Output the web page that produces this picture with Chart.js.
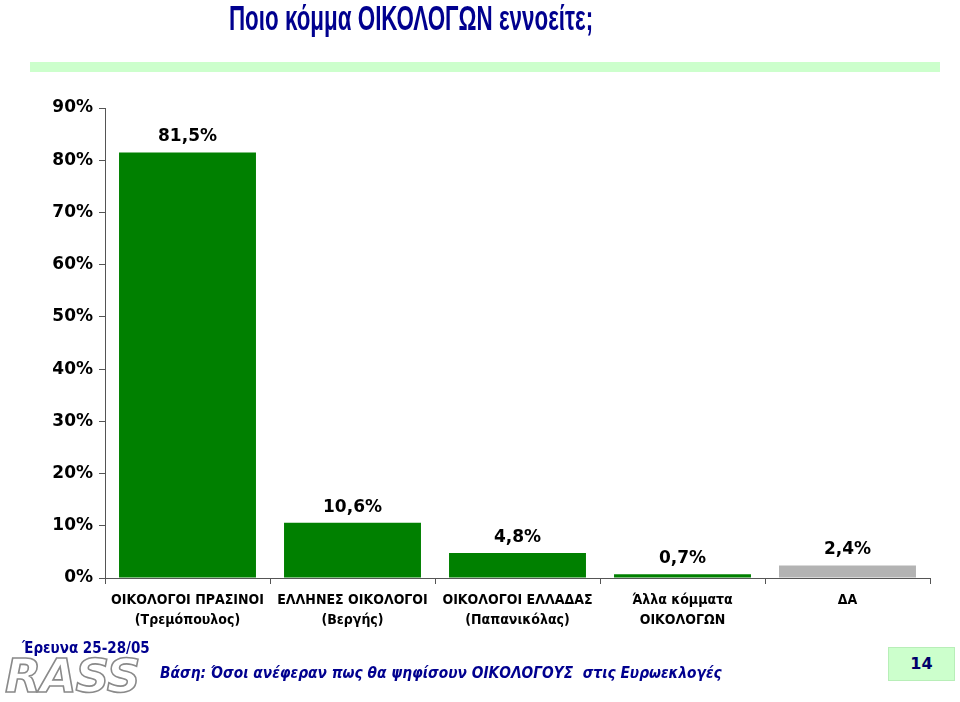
<!DOCTYPE html>
<html>
<head>
<meta charset="utf-8">
<script src="https://cdn.jsdelivr.net/npm/chart.js@4"></script>
<style>
  html, body { margin:0; padding:0; background:#fff; }
  #wrap { position:relative; width:960px; height:702px; overflow:hidden; }
  #c { position:absolute; left:0; top:0; }
  .abs { position:absolute; white-space:nowrap; }
  #title { left:0; width:822px; top:-2px; text-align:center; font-family:"Liberation Sans",Arial,sans-serif; font-weight:bold; font-size:35px; color:#00008f; transform:scaleX(0.64); transform-origin:411px 0; }
  #band { left:30px; top:62px; width:910px; height:10px; background:#ccffcc; }
  #survey { left:22px; top:639px; font-family:"DejaVu Sans Condensed","DejaVu Sans",sans-serif; font-weight:bold; font-size:15px; color:#00008f; }
  #logo { left:5px; top:648px; font-family:"DejaVu Sans","Liberation Sans",sans-serif; font-weight:bold; font-style:italic; font-size:47px; letter-spacing:-1px; color:#fff; -webkit-text-stroke:1.6px #8a8a8a; }
  #basis { left:160px; top:664px; font-family:"DejaVu Sans Condensed","DejaVu Sans",sans-serif; font-weight:bold; font-style:italic; font-size:15.3px; color:#00008f; }
  #page { left:888px; top:647px; width:65px; height:32px; background:#ccffcc; border:1px solid #b8eeb8; text-align:center; line-height:32px; font-family:"DejaVu Sans",sans-serif; font-weight:bold; font-size:16px; color:#00006a; }
</style>
</head>
<body>
<div id="wrap">
  <canvas id="c" width="960" height="702"></canvas>
  <div class="abs" id="title">Ποιο κόμμα ΟΙΚΟΛΟΓΩΝ εννοείτε;</div>
  <div class="abs" id="band"></div>
  <div class="abs" id="survey">Έρευνα 25-28/05</div>
  <div class="abs" id="logo">RASS</div>
  <div class="abs" id="basis">Βάση: Όσοι ανέφεραν πως θα ψηφίσουν ΟΙΚΟΛΟΓΟΥΣ&nbsp; στις Ευρωεκλογές</div>
  <div class="abs" id="page">14</div>
</div>
<script>
const categories = [
  ["ΟΙΚΟΛΟΓΟΙ ΠΡΑΣΙΝΟΙ", "(Τρεμόπουλος)"],
  ["ΕΛΛΗΝΕΣ ΟΙΚΟΛΟΓΟΙ", "(Βεργής)"],
  ["ΟΙΚΟΛΟΓΟΙ ΕΛΛΑΔΑΣ", "(Παπανικόλας)"],
  ["Άλλα κόμματα", "ΟΙΚΟΛΟΓΩΝ"],
  ["ΔΑ"]
];
const values = [81.5, 10.6, 4.8, 0.7, 2.4];
const barColors = ["#008000", "#008000", "#008000", "#008000", "#b3b3b3"];
const yTicks = [0, 10, 20, 30, 40, 50, 60, 70, 80, 90];

const labelPlugin = {
  id: "valueLabels",
  afterDatasetsDraw(chart) {
    const ctx = chart.ctx;
    const meta = chart.getDatasetMeta(0);
    ctx.save();
    ctx.font = "bold 17px 'DejaVu Sans', sans-serif";
    ctx.fillStyle = "#000";
    ctx.textAlign = "center";
    ctx.textBaseline = "bottom";
    meta.data.forEach((bar, i) => {
      const txt = values[i].toFixed(1).replace(".", ",") + "%";
      ctx.fillText(txt, bar.x, bar.y - 7);
    });
    ctx.restore();
  }
};

new Chart(document.getElementById("c"), {
  type: "bar",
  data: {
    labels: categories,
    datasets: [{
      data: values,
      backgroundColor: barColors,
      borderWidth: 0,
      categoryPercentage: 0.83,
      barPercentage: 1.0
    }]
  },
  options: {
    responsive: false,
    animation: false,
    events: [],
    layout: { padding: { left: 0, right: 30, top: 108, bottom: 0 } },
    plugins: { legend: { display: false }, tooltip: { enabled: false }, title: { display: false } },
    scales: {
      y: {
        min: 0, max: 90,
        afterFit(scale) { scale.width = 105; },
        afterBuildTicks(scale) { scale.ticks = yTicks.map(v => ({ value: v })); },
        ticks: {
          callback: v => v + "%",
          color: "#000",
          padding: 6,
          font: { family: "'DejaVu Sans', sans-serif", weight: "bold", size: 17 }
        },
        grid: { drawOnChartArea: false, drawTicks: true, tickLength: 6, color: "#555" },
        border: { color: "#555", width: 1 }
      },
      x: {
        afterFit(scale) { scale.height = 124; },
        ticks: {
          color: "#000",
          padding: 7,
          maxRotation: 0,
          autoSkip: false,
          font: { family: "'DejaVu Sans Condensed', 'DejaVu Sans', sans-serif", weight: "bold", size: 14, lineHeight: 1.38 }
        },
        grid: { offset: true, drawOnChartArea: false, drawTicks: true, tickLength: 6, color: "#555" },
        border: { color: "#555", width: 1 }
      }
    }
  },
  plugins: [labelPlugin]
});
</script>
</body>
</html>
